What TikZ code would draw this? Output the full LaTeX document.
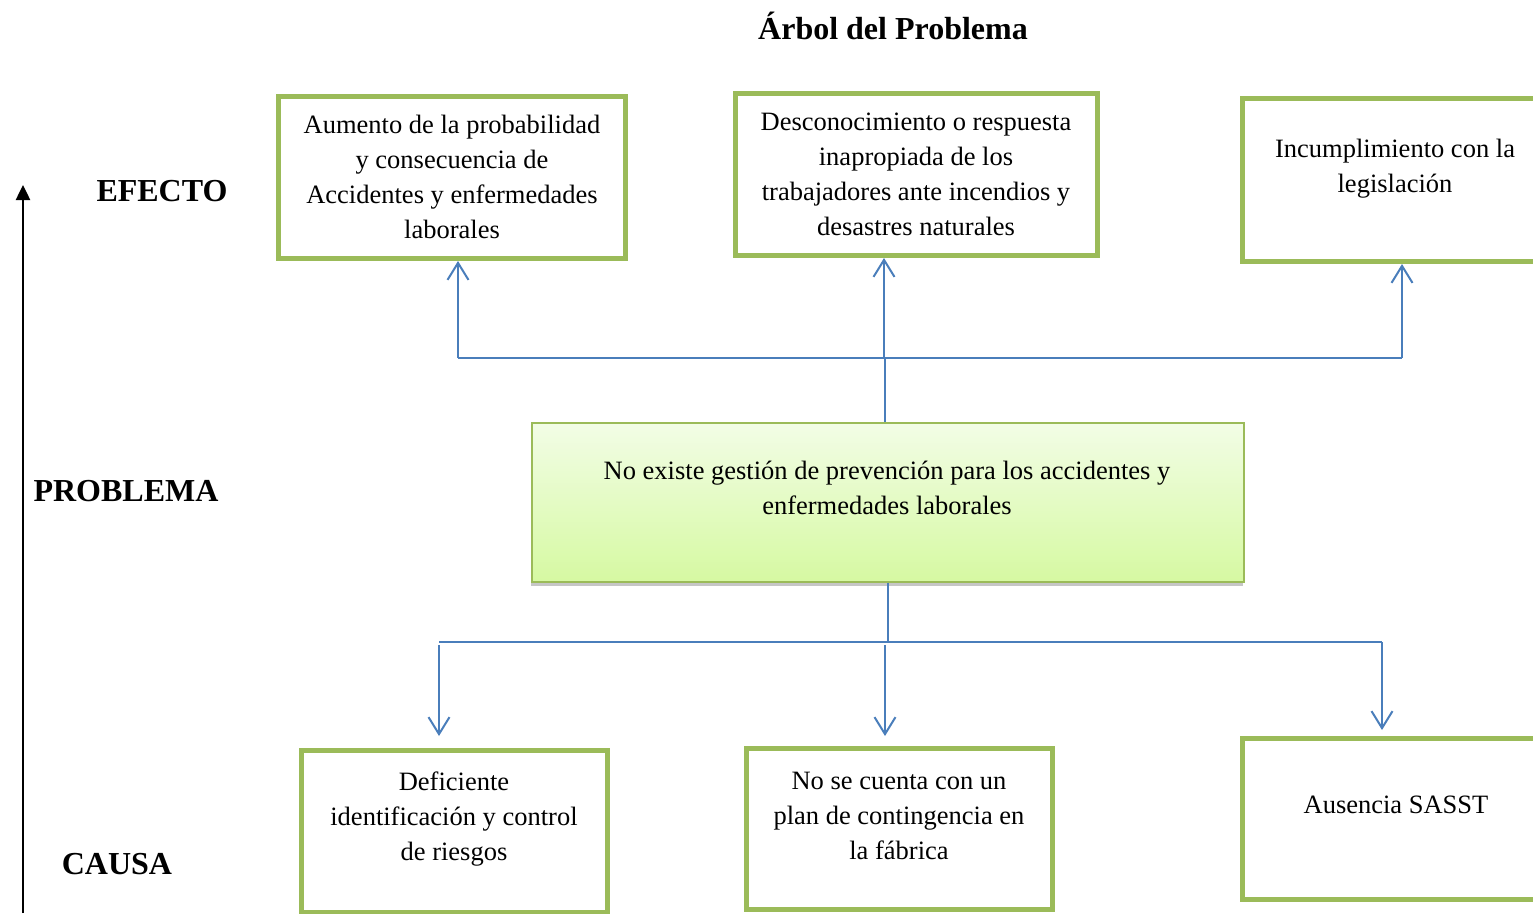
\documentclass[tikz,border=0pt]{standalone}
\usepackage{fontspec}
\setmainfont{Liberation Serif}
\usetikzlibrary{arrows.meta,shadows,calc}
\definecolor{boxgreen}{HTML}{9BBB59}
\definecolor{connblue}{HTML}{4A7EBB}
\definecolor{ptop}{HTML}{F2FDE6}
\definecolor{pbot}{HTML}{D6F9A2}
\tikzset{
  effbox/.style={draw=boxgreen, line width=5pt, rectangle, inner sep=0pt},
  probbox/.style={draw=boxgreen, line width=2pt, rectangle, inner sep=0pt,
     top color=ptop, bottom color=pbot,
     drop shadow={shadow xshift=-1pt, shadow yshift=-4pt, opacity=0.45}},
  boxtext/.style={align=center, font=\fontsize{26.5}{35}\selectfont, inner sep=0pt},
  sidelabel/.style={font=\fontsize{32}{38}\selectfont\bfseries, inner sep=0pt},
  conn/.style={draw=connblue, line width=2pt},
  conarrow/.style={conn, -{Straight Barb[length=17pt,width=21pt,line width=2pt]}},
}
\begin{document}
\begin{tikzpicture}[x=1pt,y=-1pt]
\useasboundingbox (0,0) rectangle (1533,913);
\clip (0,0) rectangle (1533,913);
% title
\node[sidelabel] (title) at (893,26) {Árbol del Problema};
% side labels
\node[sidelabel] (lefecto) at (162,191) {EFECTO};
\node[sidelabel] (lproblema) at (126,491) {PROBLEMA};
\node[sidelabel] (lcausa) at (117,864) {CAUSA};
% left axis arrow
\coordinate (axbot) at (23,913);
\coordinate (axtop) at (23,185);
\draw[line width=2.5pt, -{Triangle[length=15pt,width=14pt]}] (axbot) -- (axtop);
% effect boxes
\node[effbox, minimum width=347pt, minimum height=162pt] (e1) at (452,177.5) {};
\node[effbox, minimum width=362pt, minimum height=162pt] (e2) at (916,174.5) {};
\node[effbox, minimum width=305pt, minimum height=163pt] (e3) at (1395,180) {};
\node[boxtext] (t1) at (452,177) {Aumento de la probabilidad\\y consecuencia de\\Accidentes y enfermedades\\laborales};
\node[boxtext] (t2) at (916,174) {Desconocimiento o respuesta\\inapropiada de los\\trabajadores ante incendios y\\desastres naturales};
\node[boxtext] (t3) at (1395,169) {Incumplimiento con la\\legislación};
% problem box
\node[probbox, minimum width=712pt, minimum height=159pt] (p) at (887.5,502) {};
\node[boxtext] (tp) at (887,488) {No existe gestión de prevención para los accidentes y\\enfermedades laborales};
% cause boxes
\node[effbox, minimum width=306pt, minimum height=162pt] (c1) at (454.5,831.5) {};
\node[effbox, minimum width=306pt, minimum height=161pt] (c2) at (899.5,829) {};
\node[effbox, minimum width=307pt, minimum height=161pt] (c3) at (1396,819) {};
\node[boxtext] (tc1) at (454,819) {Deficiente\\identificación y control\\de riesgos};
\node[boxtext] (tc2) at (899,816) {No se cuenta con un\\plan de contingencia en\\la fábrica};
\node[boxtext] (tc3) at (1396,805) {Ausencia SASST};
% top connectors
\coordinate (jt) at (885,358);
\coordinate (tl) at (458,358);
\coordinate (tm) at (884,358);
\coordinate (tr) at (1402,358);
\draw[conn] (p.north -| jt) -- (jt);
\draw[conn] (tl) -- (tr);
\draw[conarrow] (tl) -- (tl |- e1.south);
\draw[conarrow] (tm) -- (tm |- e2.south);
\draw[conarrow] (tr) -- (tr |- e3.south);
% bottom connectors
\coordinate (jb) at (888,642);
\coordinate (bl) at (439,642);
\coordinate (br) at (1382,642);
\coordinate (bls) at (439,645);
\coordinate (bms) at (885,645);
\coordinate (brs) at (1382,642);
\draw[conn] (p.south -| jb) -- (jb);
\draw[conn] (bl) -- (br);
\draw[conarrow] (bls) -- ([yshift=12pt]c1.north -| bls);
\draw[conarrow] (bms) -- ([yshift=10pt]c2.north -| bms);
\draw[conarrow] (brs) -- ([yshift=6pt]c3.north -| brs);
\end{tikzpicture}
\end{document}
